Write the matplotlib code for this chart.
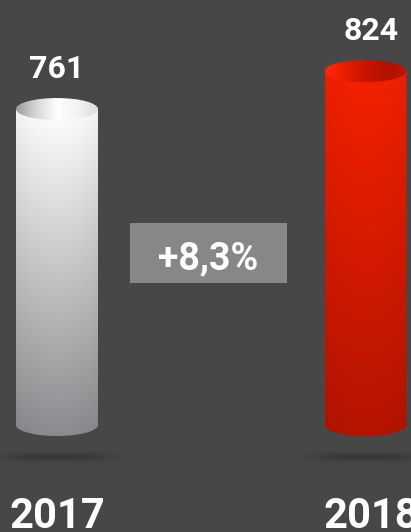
import matplotlib
matplotlib.use('Agg')
import matplotlib.pyplot as plt
import numpy as np
from matplotlib.patches import Ellipse, PathPatch, Rectangle
from matplotlib.path import Path

# data
years = ['2017', '2018']
values = [761, 824]
change_label = '+8,3%'

# layout (pixels, figure is 411x532)
W, H = 411, 532
BASE = 237          # value that sits on the cylinder floor
PX = 0.603          # pixels per value unit
FLOOR_PX = 425      # pixel row of the cylinder floor
centers = [57, 365.5]
label_x = [57, 371]
half_w = 41
ry_px = 11

BG = '#474747'
body_cols = [('#ffffff', '#8a8b8e'), ('#f52100', '#b51400')]
top_cols = [['#9c9c9c', '#d8d8d8', '#ffffff', '#f2f2f2', '#dcdcdc'],
            ['#ff2a08', '#e81c00', '#c81500', '#b21000', '#c01500']]

plt.rcParams['font.family'] = ['Roboto', 'DejaVu Sans']


def px2v(y):
    """pixel row (from top) -> value units"""
    return BASE + (FLOOR_PX - y) / PX


def hex2rgb(h):
    return np.array([int(h[i:i + 2], 16) for i in (1, 3, 5)]) / 255.0


fig = plt.figure(figsize=(W / 100, H / 100), dpi=100)
fig.patch.set_facecolor(BG)
ax = fig.add_axes([0, 0, 1, 1])
ax.set_facecolor(BG)
ax.set_xlim(0, W)
ax.set_ylim(px2v(H), px2v(0))
ax.axis('off')

ry = ry_px / PX

for i, (cx, v) in enumerate(zip(centers, values)):
    x0, x1 = cx - half_w, cx + half_w

    # shadow on the floor
    sy0, sy1 = px2v(457 + 9), px2v(457 - 9)
    sx = np.linspace(-1, 1, 200)
    syy = np.linspace(-1, 1, 40)
    gx, gy = np.meshgrid(sx, syy)
    alpha = 0.22 * np.exp(-(np.abs(gx) / 0.75) ** 4 - (gy / 0.45) ** 2)
    sh = np.zeros((40, 200, 4))
    sh[..., 3] = alpha
    ax.imshow(sh, extent=[cx - 68, cx + 68, sy0, sy1], aspect='auto',
              interpolation='bilinear', zorder=1)

    # body
    c_top, c_bot = hex2rgb(body_cols[i][0]), hex2rgb(body_cols[i][1])
    t = np.linspace(0, 1, 300)[:, None, None]
    u = np.linspace(-1, 1, 100)[None, :, None]
    img = c_top * (1 - t) + c_bot * t
    img = img * (1 - 0.05 * u ** 2)
    img = np.clip(img, 0, 1)
    im = ax.imshow(img, extent=[x0, x1, BASE - ry, v], aspect='auto',
                   interpolation='bilinear', zorder=2)
    th = np.linspace(np.pi, 2 * np.pi, 60)
    verts = [(x0, v), (x0, BASE)]
    verts += list(zip(cx + half_w * np.cos(th), BASE + ry * np.sin(th)))
    verts += [(x1, v), (x0, v)]
    codes = [Path.MOVETO] + [Path.LINETO] * (len(verts) - 2) + [Path.CLOSEPOLY]
    clip = PathPatch(Path(verts, codes), transform=ax.transData,
                     facecolor='none', edgecolor='none')
    ax.add_patch(clip)
    im.set_clip_path(clip)

    # top face
    stops = [hex2rgb(c) for c in top_cols[i]]
    pos = np.linspace(0, 1, len(stops))
    uu = np.linspace(0, 1, 200)
    row = np.stack([np.interp(uu, pos, [s[k] for s in stops]) for k in range(3)], axis=-1)
    timg = np.repeat(row[None, :, :], 20, axis=0)
    tim = ax.imshow(timg, extent=[x0, x1, v - ry, v + ry], aspect='auto',
                    interpolation='bilinear', zorder=3)
    ell = Ellipse((cx, v), 2 * half_w, 2 * ry, transform=ax.transData,
                  facecolor='none', edgecolor='none')
    ax.add_patch(ell)
    tim.set_clip_path(ell)

    # value label above cylinder
    ax.text(label_x[i], v + 31 / PX, str(v), ha='center', va='baseline',
            color='white', fontsize=23, fontweight='bold', zorder=5)
    # year label
    ax.text(label_x[i], px2v(528), years[i], ha='center', va='baseline',
            color='white', fontsize=30, fontweight='bold', zorder=5)

# change box
ax.add_patch(Rectangle((130, px2v(283)), 157, 60 / PX, facecolor='#878787',
                       edgecolor='none', zorder=4))
ax.text(208, px2v(269), change_label, ha='center', va='baseline',
        color='white', fontsize=27, fontweight='bold', zorder=5)

fig.savefig('out.png', dpi=100, facecolor=BG)
